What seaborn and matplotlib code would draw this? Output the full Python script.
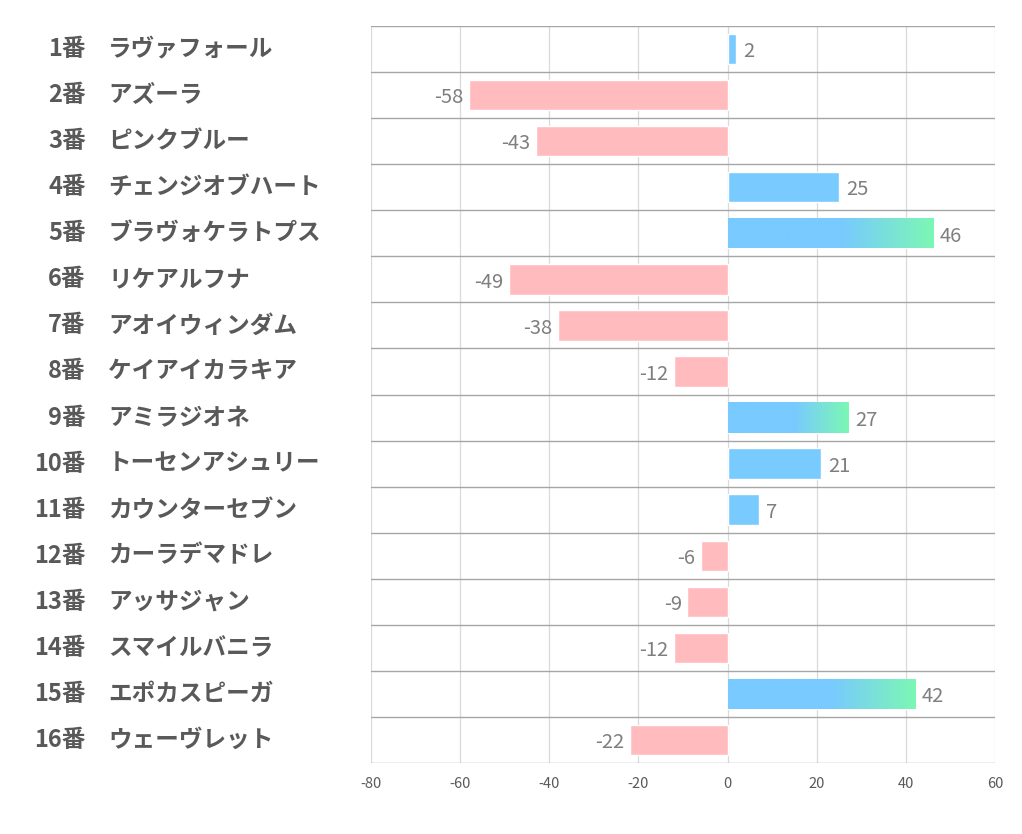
import numpy as np
import pandas as pd
import matplotlib
matplotlib.use("Agg")
import matplotlib.pyplot as plt
import seaborn as sns
from matplotlib.colors import LinearSegmentedColormap

numbers = ["1番", "2番", "3番", "4番", "5番", "6番", "7番", "8番",
           "9番", "10番", "11番", "12番", "13番", "14番", "15番", "16番"]
names = ["ラヴァフォール", "アズーラ", "ピンクブルー", "チェンジオブハート",
         "ブラヴォケラトプス", "リケアルフナ", "アオイウィンダム", "ケイアイカラキア",
         "アミラジオネ", "トーセンアシュリー", "カウンターセブン", "カーラデマドレ",
         "アッサジャン", "スマイルバニラ", "エポカスピーガ", "ウェーヴレット"]
values = [2, -58, -43, 25, 46, -49, -38, -12, 27, 21, 7, -6, -9, -12, 42, -22]
x_ticks = [-80, -60, -40, -20, 0, 20, 40, 60]

BLUE = "#78CAFF"
GREEN = "#7CF7B4"
PINK = "#FFBBBE"

sns.set_theme(style="white")
plt.rcParams['font.family'] = ['Noto Sans CJK JP', 'DejaVu Sans']

df = pd.DataFrame({"label": numbers, "value": values})
df["sign"] = np.where(df["value"] >= 0, "pos", "neg")

fig = plt.figure(figsize=(10.22, 8.34), dpi=100)
ax = fig.add_axes([371/1022, 1 - 763/834, (995-371)/1022, (763-26)/834])

sns.barplot(data=df, y="label", x="value", hue="sign",
            palette={"pos": BLUE, "neg": PINK}, orient="h",
            width=0.66, dodge=False, legend=False, ax=ax, saturation=1)

ax.set_xlim(-80, 60)
ax.set_ylim(len(values) - 0.5, -0.5)
ax.set_xticks(x_ticks)
ax.set_xticklabels([str(t) for t in x_ticks], fontsize=10.5, color="#595959")
ax.set_yticks([])
ax.set_xlabel("")
ax.set_ylabel("")
ax.tick_params(axis="x", length=0, pad=10)

# vertical gridlines
for t in x_ticks:
    ax.axvline(t, color="#D9D9D9", lw=0.9, zorder=0)
# row separators
for i in range(len(values) + 1):
    ax.axhline(i - 0.5, color="#A6A6A6", lw=1.0, zorder=0.5)
for s in ax.spines.values():
    s.set_visible(False)

# gradient overlay on top-3 bars
top3 = sorted(range(len(values)), key=lambda i: values[i], reverse=True)[:3]
grad = np.linspace(0, 1, 256).reshape(1, -1)
cmap2 = LinearSegmentedColormap.from_list("bg2", [(0, BLUE), (0.55, BLUE), (1, GREEN)])
for p in ax.patches:
    w = p.get_width()
    yc = p.get_y() + p.get_height() / 2
    idx = int(round(yc))
    if idx in top3 and w > 0:
        x0 = p.get_x()
        y0 = p.get_y()
        h = p.get_height()
        im = ax.imshow(grad, extent=[x0, x0 + w, y0 + h, y0], cmap=cmap2,
                       aspect="auto", zorder=p.get_zorder() + 0.1, interpolation="bicubic")
        im.set_clip_path(p)
ax.set_xlim(-80, 60)
ax.set_ylim(len(values) - 0.5, -0.5)

# value labels
for i, v in enumerate(values):
    if v >= 0:
        ax.annotate(str(v), (v, i), xytext=(5, -2), textcoords="offset points",
                    ha="left", va="center", fontsize=14.5, color="#7F7F7F")
    else:
        ax.annotate(str(v), (v, i), xytext=(-4, -2), textcoords="offset points",
                    ha="right", va="center", fontsize=14.5, color="#7F7F7F")

# row labels
tr = ax.get_yaxis_transform()
for i, (n, nm) in enumerate(zip(numbers, names)):
    ax.text(-0.457, i, n, transform=tr, ha="right", va="center",
            fontsize=17, fontweight="bold", color="#595959")
    ax.text(-0.421, i, nm, transform=tr, ha="left", va="center",
            fontsize=17, fontweight="bold", color="#595959")

fig.savefig("out.png", dpi=100)
